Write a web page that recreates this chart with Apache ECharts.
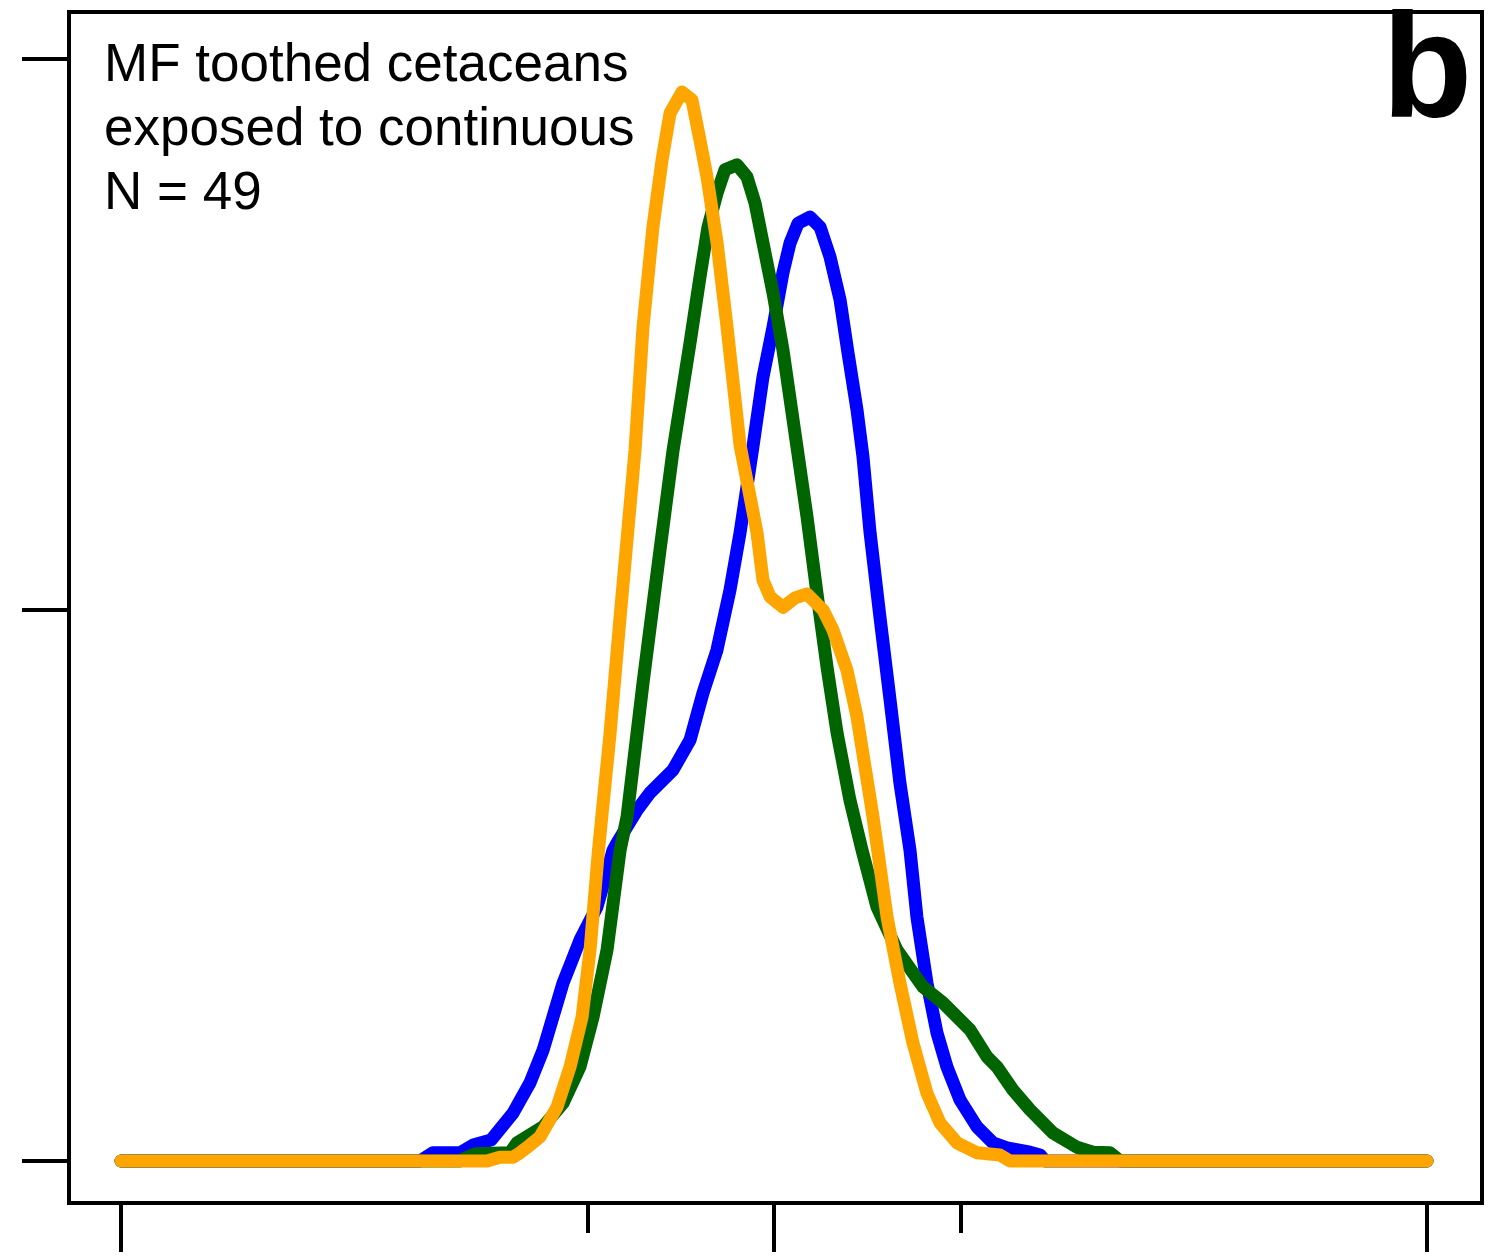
<!DOCTYPE html>
<html>
<head>
<meta charset="utf-8">
<script src="https://cdn.jsdelivr.net/npm/echarts@6/dist/echarts.min.js"></script>
<style>
html,body{margin:0;padding:0;background:#fff;}
#chart{width:1495px;height:1256px;}
</style>
</head>
<body>
<div id="chart"></div>
<script>
// ---- data ----
const blueX = [-3.5, -1.897, -1.828, -1.683, -1.613, -1.517, -1.399, -1.308, -1.238, -1.201, -1.131, -1.040, -0.949, -0.863, -0.842, -0.734, -0.665, -0.541, -0.450, -0.381, -0.306, -0.236, -0.182, -0.113, -0.059, -0.005, 0.048, 0.086, 0.129, 0.193, 0.247, 0.300, 0.354, 0.397, 0.445, 0.477, 0.515, 0.568, 0.622, 0.675, 0.729, 0.766, 0.820, 0.874, 0.927, 0.997, 1.088, 1.174, 1.249, 1.372, 1.426, 1.453, 3.5];
const blueY = [0, 0, 0.015, 0.015, 0.029, 0.038, 0.087, 0.142, 0.201, 0.243, 0.323, 0.401, 0.461, 0.564, 0.577, 0.637, 0.668, 0.710, 0.764, 0.849, 0.927, 1.036, 1.140, 1.296, 1.423, 1.514, 1.612, 1.666, 1.702, 1.713, 1.695, 1.641, 1.563, 1.466, 1.363, 1.278, 1.140, 0.987, 0.837, 0.686, 0.564, 0.443, 0.323, 0.232, 0.171, 0.111, 0.062, 0.033, 0.024, 0.016, 0.011, 0, 0];

const greenX = [-3.5, -1.683, -1.656, -1.602, -1.415, -1.377, -1.238, -1.131, -1.040, -0.970, -0.895, -0.825, -0.788, -0.702, -0.611, -0.541, -0.450, -0.397, -0.354, -0.305, -0.263, -0.198, -0.145, -0.102, -0.059, -0.005, 0.048, 0.123, 0.177, 0.230, 0.284, 0.338, 0.407, 0.472, 0.552, 0.659, 0.799, 0.906, 1.051, 1.142, 1.195, 1.281, 1.372, 1.495, 1.624, 1.710, 1.801, 1.855, 3.5];
const greenY = [0, 0, 0.005, 0.013, 0.015, 0.033, 0.062, 0.105, 0.171, 0.261, 0.383, 0.564, 0.624, 0.868, 1.109, 1.290, 1.485, 1.604, 1.695, 1.757, 1.799, 1.808, 1.786, 1.739, 1.666, 1.575, 1.472, 1.296, 1.169, 1.031, 0.897, 0.777, 0.655, 0.564, 0.461, 0.383, 0.316, 0.287, 0.238, 0.189, 0.171, 0.129, 0.093, 0.051, 0.025, 0.016, 0.015, 0, 0];

const orangeX = [-3.5, -1.538, -1.469, -1.399, -1.361, -1.308, -1.254, -1.163, -1.093, -1.029, -0.986, -0.941, -0.879, -0.825, -0.745, -0.702, -0.649, -0.600, -0.557, -0.493, -0.440, -0.397, -0.359, -0.305, -0.252, -0.182, -0.091, -0.059, -0.021, 0.048, 0.113, 0.177, 0.263, 0.316, 0.391, 0.445, 0.531, 0.606, 0.675, 0.745, 0.820, 0.890, 0.981, 1.088, 1.211, 1.265, 3.5];
const orangeY = [0, 0, 0.007, 0.007, 0.015, 0.029, 0.044, 0.098, 0.171, 0.261, 0.383, 0.564, 0.775, 0.987, 1.290, 1.514, 1.695, 1.817, 1.902, 1.940, 1.926, 1.853, 1.786, 1.666, 1.514, 1.299, 1.140, 1.054, 1.024, 1.005, 1.022, 1.029, 1.000, 0.964, 0.891, 0.806, 0.624, 0.443, 0.323, 0.214, 0.123, 0.069, 0.033, 0.015, 0.011, 0, 0];

const xTicksLong = [-3.5, 0, 3.5];
const xTicksShort = [-1, 1];
const yTicks = [0, 1, 2];

const textLines = ['MF toothed cetaceans', 'exposed to continuous', 'N = 49'];
const panelLabel = 'b';

function pairs(xs, ys) { return xs.map((x, i) => [x, ys[i]]); }

const chart = echarts.init(document.getElementById('chart'), null, {renderer: 'canvas'});

const FONT = '"Liberation Sans", Arial, Helvetica, sans-serif';
const tickStyle = {color: '#000', width: 4};

function lineSeries(name, xs, ys, color) {
  return {
    name: name, type: 'line', data: pairs(xs, ys),
    xAxisIndex: 0, yAxisIndex: 0,
    showSymbol: false, symbol: 'none', smooth: false, animation: false,
    lineStyle: {color: color, width: 13, cap: 'round', join: 'round'},
    emphasis: {disabled: true}
  };
}

const option = {
  animation: false,
  backgroundColor: '#fff',
  grid: {left: 69, top: 12, width: 1413, height: 1191, show: true, borderColor: '#000', borderWidth: 4, backgroundColor: 'transparent', containLabel: false},
  xAxis: [
    {type: 'value', min: -3.779, max: 3.795, position: 'bottom',
     axisLine: {show: false, onZero: false}, splitLine: {show: false}, axisLabel: {show: false},
     axisTick: {show: true, inside: false, length: 49, lineStyle: tickStyle, customValues: xTicksLong}},
    {type: 'value', min: -3.779, max: 3.795, position: 'bottom',
     axisLine: {show: false, onZero: false}, splitLine: {show: false}, axisLabel: {show: false},
     axisTick: {show: true, inside: false, length: 30, lineStyle: tickStyle, customValues: xTicksShort}}
  ],
  yAxis: [
    {type: 'value', min: -0.0762, max: 2.0853, position: 'left',
     axisLine: {show: false, onZero: false}, splitLine: {show: false}, axisLabel: {show: false},
     axisTick: {show: true, inside: false, length: 47, lineStyle: tickStyle, customValues: yTicks}}
  ],
  series: [
    lineSeries('blue', blueX, blueY, '#0000FF'),
    lineSeries('green', greenX, greenY, '#006400'),
    lineSeries('orange', orangeX, orangeY, '#FFA500')
  ],
  graphic: [
    {type: 'text', left: 104, top: 40, z: 100, style: {text: textLines[0], font: '53px ' + FONT, fill: '#000'}},
    {type: 'text', left: 104, top: 104, z: 100, style: {text: textLines[1], font: '53px ' + FONT, fill: '#000'}},
    {type: 'text', left: 104, top: 168, z: 100, style: {text: textLines[2], font: '53px ' + FONT, fill: '#000'}},
    {type: 'text', left: 1382, top: 2, z: 100, style: {text: panelLabel, font: 'bold 148px ' + FONT, fill: '#000'}}
  ]
};
chart.setOption(option);
</script>
</body>
</html>
